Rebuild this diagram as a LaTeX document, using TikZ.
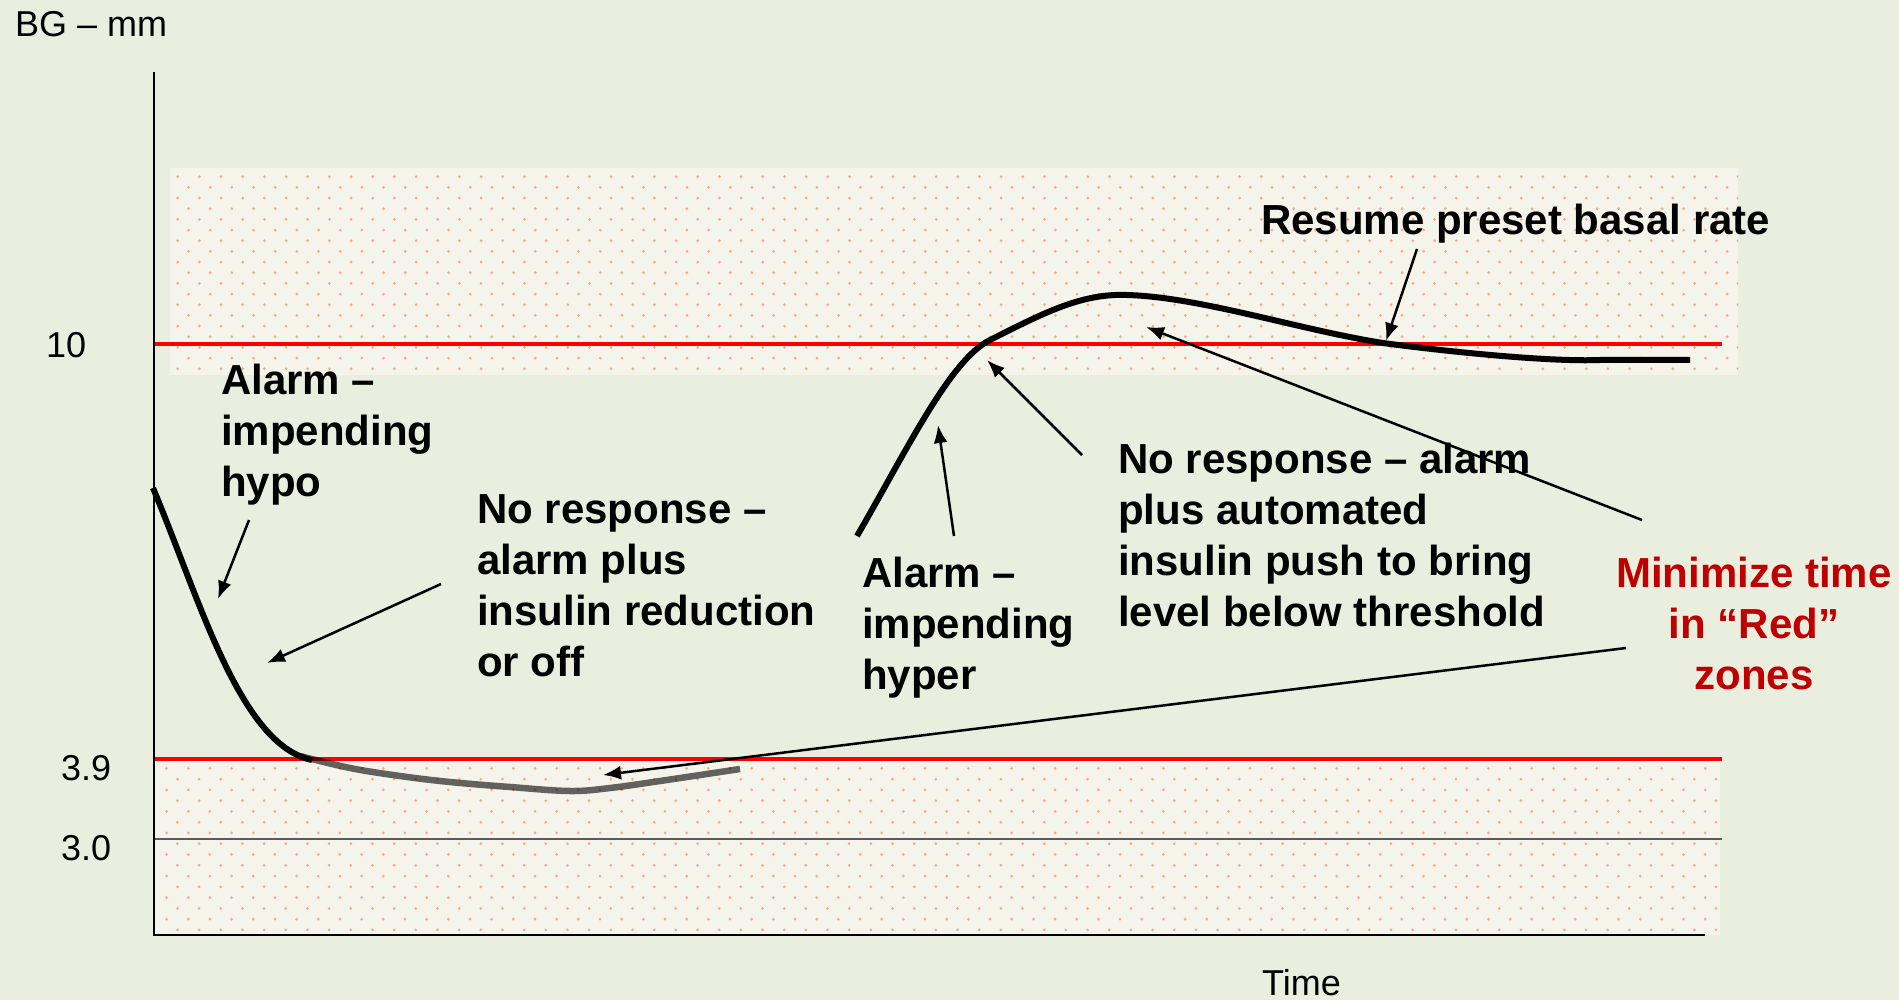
\documentclass[tikz,border=0pt]{standalone}
\usepackage{fontspec}
\setmainfont{Liberation Sans}
\usetikzlibrary{arrows.meta}
\definecolor{bgc}{RGB}{234,238,222}
\definecolor{zonec}{RGB}{244,244,234}
\definecolor{dotc}{RGB}{245,168,138}
\definecolor{darkred}{RGB}{192,0,0}
\definecolor{thingray}{RGB}{90,90,90}
\begin{document}
\begin{tikzpicture}[x=1pt,y=-1pt,
  lbl/.style={font=\bfseries\fontsize{42}{51}\selectfont, align=left, inner sep=0pt, anchor=base west},
  axlbl/.style={font=\fontsize{36}{43}\selectfont, inner sep=0pt, anchor=base west},
  redline/.style={draw=red, line width=4.5pt},
  bgcurve/.style={line width=6pt, line join=round},
  callout/.style={line width=2.5pt, -{Latex[length=18pt,width=14pt]}}
]
\useasboundingbox (0,0) rectangle (1899,1000);
\fill[bgc] (0,0) rectangle (1899,1000);

% zones
\fill[zonec] (170,168) rectangle (1738,375);
\fill[zonec] (154,757) rectangle (1720,935);
\begin{scope}
  \clip (170,168) rectangle (1738,375);
  \fill[dotc] \foreach \j in {0,...,18} { \foreach \i in {0,...,72} { ({177.7+21.67*\i+mod(\j,2)*10.83}, {176.7+10.67*\j}) circle (1.5) } };
\end{scope}
\begin{scope}
  \clip (154,757) rectangle (1720,935);
  \fill[dotc] \foreach \j in {0,...,16} { \foreach \i in {0,...,72} { ({166.6+21.67*\i+mod(\j+1,2)*10.83}, {757.6+10.77*\j}) circle (1.5) } };
\end{scope}

% threshold lines
\draw[thingray, line width=1.4pt] (154,839) -- (1722,839);
\draw[redline] (154,344) -- (1722,344);
\draw[redline] (154,759) -- (1722,759);

% axes
\draw[line width=2pt] (154,72) -- (154,935) -- (1705,935);

% axis labels
\node[axlbl] (ylab) at (15,37) {BG – mm};
\node[axlbl] (xlab) at (1262,995) {Time};
\node[axlbl] (t10) at (46,358) {10};
\node[axlbl] (t39) at (61,780) {3.9};
\node[axlbl] (t30) at (61,860) {3.0};

% curves
\draw[bgcurve] (153,488) .. controls (200,600) and (240,745) .. (312,760);
\draw[bgcurve, line width=6.5pt, black, opacity=0.6] plot[smooth, tension=0.6] coordinates {(300,756) (350,768) (400,776) (450,782) (510,787) (570,791) (610,788) (660,781) (740,769)};
\draw[bgcurve] (857,536) .. controls (908,448) and (950,360) .. (990,340)
  .. controls (1040,315) and (1080,293) .. (1127,295)
  .. controls (1200,297) and (1300,330) .. (1383,343)
  .. controls (1450,352) and (1550,362) .. (1600,360) -- (1690,360);

% labels (anchor at the baseline of the last line)
\node[lbl] (hypo) at (221,496) {Alarm –\\impending\\hypo};
\node[lbl] (noresp1) at (477,676) {No response –\\alarm plus\\insulin reduction\\or off};
\node[lbl] (hyper) at (862,689) {Alarm –\\impending\\hyper};
\node[lbl] (noresp2) at (1118,626) {No response – alarm\\plus automated\\insulin push to bring\\level below threshold};
\node[lbl] (resume) at (1261,235) {Resume preset basal rate};
\node[lbl, anchor=base, align=center, text=darkred] (minimize) at (1754,689) {Minimize time\\in “Red”\\zones};

% callout coordinates
\coordinate (a1s) at (249,520); \coordinate (a1e) at (218,599);
\coordinate (a2s) at (441,584); \coordinate (a2e) at (267,663);
\coordinate (a3s) at (1626,648); \coordinate (a3e) at (603,775);
\coordinate (a4s) at (1642,520); \coordinate (a4e) at (1146,327);
\coordinate (a5s) at (1082,455); \coordinate (a5e) at (987,360);
\coordinate (a6s) at (954,536); \coordinate (a6e) at (938,425);
\coordinate (a7s) at (1417,249); \coordinate (a7e) at (1386,341);

\draw[callout] (a1s) -- (a1e);
\draw[callout] (a2s) -- (a2e);
\draw[callout] (a3s) -- (a3e);
\draw[callout] (a4s) -- (a4e);
\draw[callout] (a5s) -- (a5e);
\draw[callout] (a6s) -- (a6e);
\draw[callout] (a7s) -- (a7e);
\end{tikzpicture}
\end{document}
